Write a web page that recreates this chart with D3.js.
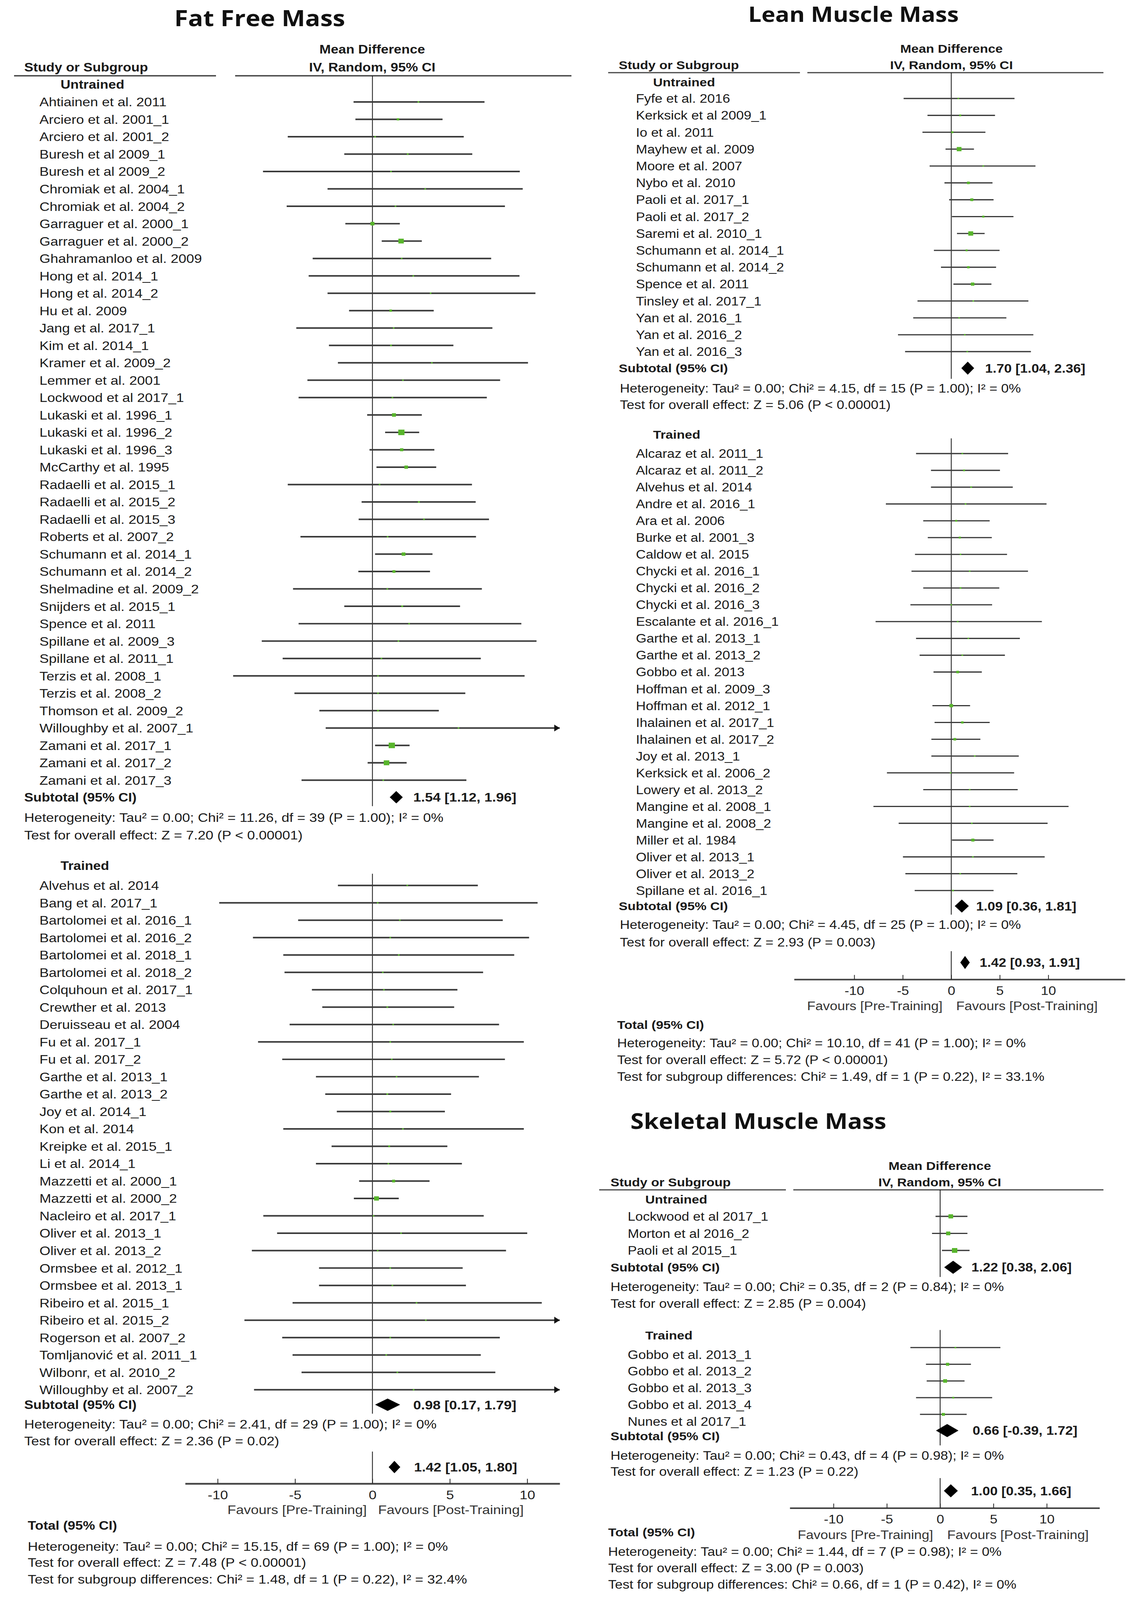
<!DOCTYPE html>
<html>
<head>
<meta charset="utf-8">
<script src="https://cdn.jsdelivr.net/npm/d3@7"></script>
<style>
html, body { margin: 0; padding: 0; background: #fff; overflow: hidden; }
svg { display: block; }
</style>
</head>
<body>
<div id="chart"></div>
<script>
// ---- data: fat free mass ----
var ffmUntrainedStudies = ["Ahtiainen et al. 2011", "Arciero et al. 2001_1", "Arciero et al. 2001_2", "Buresh et al 2009_1",
  "Buresh et al 2009_2", "Chromiak et al. 2004_1", "Chromiak et al. 2004_2", "Garraguer et al. 2000_1",
  "Garraguer et al. 2000_2", "Ghahramanloo et al. 2009", "Hong et al. 2014_1", "Hong et al. 2014_2",
  "Hu et al. 2009", "Jang et al. 2017_1", "Kim et al. 2014_1", "Kramer et al. 2009_2", "Lemmer et al. 2001",
  "Lockwood et al 2017_1", "Lukaski et al. 1996_1", "Lukaski et al. 1996_2", "Lukaski et al. 1996_3",
  "McCarthy et al. 1995", "Radaelli et al. 2015_1", "Radaelli et al. 2015_2", "Radaelli et al. 2015_3",
  "Roberts et al. 2007_2", "Schumann et al. 2014_1", "Schumann et al. 2014_2", "Shelmadine et al. 2009_2",
  "Snijders et al. 2015_1", "Spence et al. 2011", "Spillane et al. 2009_3", "Spillane et al. 2011_1",
  "Terzis et al. 2008_1", "Terzis et al. 2008_2", "Thomson et al. 2009_2", "Willoughby et al. 2007_1",
  "Zamani et al. 2017_1", "Zamani et al. 2017_2", "Zamani et al. 2017_3"];
// [mean difference, lower, upper]
var ffmUntrainedCI = [[2.97,-1.22,7.24],[1.65,-1.10,4.53],[0.17,-5.47,5.90],[2.28,-1.82,6.45],
  [1.20,-7.07,9.52],[3.41,-2.90,9.71],[1.49,-5.54,8.56],[0.00,-1.75,1.77],
  [1.85,0.60,3.19],[1.89,-3.86,7.67],[2.64,-4.12,9.50],[3.76,-2.90,10.53],
  [1.18,-1.51,3.96],[1.37,-4.92,7.75],[1.20,-2.81,5.23],[3.84,-2.23,10.05],[1.97,-4.20,8.25],
  [1.29,-4.77,7.39],[1.39,-0.34,3.19],[1.87,0.82,3.02],[1.89,-0.19,4.00],
  [2.18,0.26,4.12],[0.46,-5.47,6.43],[3.00,-0.70,6.67],[3.33,-0.89,7.53],
  [0.98,-4.65,6.69],[2.01,0.17,3.88],[1.39,-0.91,3.72],[0.96,-5.13,7.07],
  [1.92,-1.82,5.66],[2.37,-4.77,9.62],[1.68,-7.15,10.60],[0.58,-5.80,7.00],
  [0.36,-9.00,9.83],[0.36,-5.04,6.00],[0.36,-3.43,4.29],[5.56,-3.02,14.10],
  [1.25,0.17,2.40],[0.91,-0.31,2.21],[0.70,-4.58,6.07]];

var ffmTrainedStudies = ["Alvehus et al. 2014", "Bang et al. 2017_1", "Bartolomei et al. 2016_1", "Bartolomei et al. 2016_2",
  "Bartolomei et al. 2018_1", "Bartolomei et al. 2018_2", "Colquhoun et al. 2017_1", "Crewther et al. 2013",
  "Deruisseau et al. 2004", "Fu et al. 2017_1", "Fu et al. 2017_2", "Garthe et al. 2013_1", "Garthe et al. 2013_2",
  "Joy et al. 2014_1", "Kon et al. 2014", "Kreipke et al. 2015_1", "Li et al. 2014_1", "Mazzetti et al. 2000_1",
  "Mazzetti et al. 2000_2", "Nacleiro et al. 2017_1", "Oliver et al. 2013_1", "Oliver et al. 2013_2",
  "Ormsbee et al. 2012_1", "Ormsbee et al. 2013_1", "Ribeiro et al. 2015_1", "Ribeiro et al. 2015_2",
  "Rogerson et al. 2007_2", "Tomljanović et al. 2011_1", "Wilbonr, et al. 2010_2", "Willoughby et al. 2007_2"];
var ffmTrainedCI = [[2.25,-2.23,6.81],[0.34,-9.90,10.67],[1.77,-4.80,8.42],[1.15,-7.72,10.12],
  [1.70,-5.76,9.16],[0.67,-5.68,7.15],[0.74,-3.91,5.49],[0.96,-3.24,5.28],
  [1.34,-5.35,8.18],[1.15,-7.39,9.78],[1.25,-5.83,8.56],[1.56,-3.65,6.88],[0.96,-3.05,5.08],
  [1.15,-2.30,4.68],[1.97,-5.76,9.78],[1.08,-2.64,4.84],[1.03,-3.65,5.78],[1.37,-0.86,3.69],
  [0.26,-1.20,1.70],[0.07,-7.05,7.19],[1.85,-6.16,10.00],[0.34,-7.79,8.63],
  [1.15,-3.45,5.83],[1.29,-3.45,6.04],[2.85,-5.16,10.94],[3.45,-8.27,15.17],
  [1.15,-5.83,8.23],[0.89,-5.16,7.00],[1.61,-4.58,7.94],[2.66,-7.65,12.97]];

var ffmSubtotals = [[1.54,1.12,1.96],[0.98,0.17,1.79]];
var ffmOverall = [1.42,1.05,1.80];
var ffmStats = [
  ["Heterogeneity: Tau² = 0.00; Chi² = 11.26, df = 39 (P = 1.00); I² = 0%", "Test for overall effect: Z = 7.20 (P < 0.00001)"],
  ["Heterogeneity: Tau² = 0.00; Chi² = 2.41, df = 29 (P = 1.00); I² = 0%", "Test for overall effect: Z = 2.36 (P = 0.02)"]];
var ffmTotalStats = ["Heterogeneity: Tau² = 0.00; Chi² = 15.15, df = 69 (P = 1.00); I² = 0%",
  "Test for overall effect: Z = 7.48 (P < 0.00001)",
  "Test for subgroup differences: Chi² = 1.48, df = 1 (P = 0.22), I² = 32.4%"];

// ---- data: lean muscle mass ----
var lmmUntrainedStudies = ["Fyfe et al. 2016", "Kerksick et al 2009_1", "Io et al. 2011", "Mayhew et al. 2009",
  "Moore et al. 2007", "Nybo et al. 2010", "Paoli et al. 2017_1", "Paoli et al. 2017_2", "Saremi et al. 2010_1",
  "Schumann et al. 2014_1", "Schumann et al. 2014_2", "Spence et al. 2011", "Tinsley et al. 2017_1",
  "Yan et al. 2016_1", "Yan et al. 2016_2", "Yan et al. 2016_3"];
var lmmUntrainedCI = [[0.73,-4.91,6.52],[0.92,-2.45,4.51],[0.11,-2.97,3.52],[0.81,-0.59,2.34],
  [3.30,-2.23,8.68],[1.76,-0.70,4.25],[2.12,-0.22,4.36],[3.30,0.07,6.41],[2.01,0.59,3.44],
  [1.58,-1.79,4.98],[1.76,-1.06,4.62],[2.20,0.22,4.14],[2.27,-3.48,7.95],
  [0.81,-3.92,5.68],[1.39,-5.49,8.46],[1.65,-4.76,8.21]];

var lmmTrainedStudies = ["Alcaraz et al. 2011_1", "Alcaraz et al. 2011_2", "Alvehus et al. 2014", "Andre et al. 2016_1",
  "Ara et al. 2006", "Burke et al. 2001_3", "Caldow et al. 2015", "Chycki et al. 2016_1", "Chycki et al. 2016_2",
  "Chycki et al. 2016_3", "Escalante et al. 2016_1", "Garthe et al. 2013_1", "Garthe et al. 2013_2",
  "Gobbo et al. 2013", "Hoffman et al. 2009_3", "Hoffman et al. 2012_1", "Ihalainen et al. 2017_1",
  "Ihalainen et al. 2017_2", "Joy et al. 2013_1", "Kerksick et al. 2006_2", "Lowery et al. 2013_2",
  "Mangine et al. 2008_1", "Mangine et al. 2008_2", "Miller et al. 1984", "Oliver et al. 2013_1",
  "Oliver et al. 2013_2", "Spillane et al. 2016_1"];
var lmmTrainedCI = [[1.14,-3.63,5.86],[1.32,-2.09,5.02],[2.05,-2.09,6.34],[1.47,-6.74,9.82],
  [0.51,-2.89,3.96],[0.88,-2.42,4.18],[0.95,-3.74,5.75],[1.90,-4.10,7.91],[0.95,-2.89,4.95],
  [0.00,-4.21,4.21],[0.66,-7.80,9.34],[1.76,-3.63,7.07],[1.14,-3.26,5.53],
  [0.66,-1.83,3.15],null,[0.00,-1.94,1.94],[1.14,-1.72,3.96],
  [0.37,-2.05,3.00],[2.42,-2.05,6.96],[-0.07,-6.63,6.48],[1.90,-2.89,6.85],
  [1.90,-8.02,12.09],[2.12,-5.42,9.93],[2.23,0.07,4.36],[2.23,-4.98,9.63],
  [0.92,-4.73,6.81],[0.18,-3.77,4.36]];

var lmmSubtotals = [[1.70,1.04,2.36],[1.09,0.36,1.81]];
var lmmOverall = [1.42,0.93,1.91];
var lmmStats = [
  ["Heterogeneity: Tau² = 0.00; Chi² = 4.15, df = 15 (P = 1.00); I² = 0%", "Test for overall effect: Z = 5.06 (P < 0.00001)"],
  ["Heterogeneity: Tau² = 0.00; Chi² = 4.45, df = 25 (P = 1.00); I² = 0%", "Test for overall effect: Z = 2.93 (P = 0.003)"]];
var lmmTotalStats = ["Heterogeneity: Tau² = 0.00; Chi² = 10.10, df = 41 (P = 1.00); I² = 0%",
  "Test for overall effect: Z = 5.72 (P < 0.00001)",
  "Test for subgroup differences: Chi² = 1.49, df = 1 (P = 0.22), I² = 33.1%"];

// ---- data: skeletal muscle mass ----
var smmUntrainedStudies = ["Lockwood et al 2017_1", "Morton et al 2016_2", "Paoli et al 2015_1"];
var smmUntrainedCI = [[1.00,-0.43,2.56],[0.76,-0.76,2.56],[1.36,0.17,2.76]];
var smmTrainedStudies = ["Gobbo et al. 2013_1", "Gobbo et al. 2013_2", "Gobbo et al. 2013_3", "Gobbo et al. 2013_4", "Nunes et al 2017_1"];
var smmTrainedCI = [[1.43,-2.79,5.65],[0.70,-1.33,2.89],[0.47,-1.26,2.29],[1.23,-2.26,4.88],[0.30,-1.89,2.49]];
var smmSubtotals = [[1.22,0.38,2.06],[0.66,-0.39,1.72]];
var smmOverall = [1.00,0.35,1.66];
var smmStats = [
  ["Heterogeneity: Tau² = 0.00; Chi² = 0.35, df = 2 (P = 0.84); I² = 0%", "Test for overall effect: Z = 2.85 (P = 0.004)"],
  ["Heterogeneity: Tau² = 0.00; Chi² = 0.43, df = 4 (P = 0.98); I² = 0%", "Test for overall effect: Z = 1.23 (P = 0.22)"]];
var smmTotalStats = ["Heterogeneity: Tau² = 0.00; Chi² = 1.44, df = 7 (P = 0.98); I² = 0%",
  "Test for overall effect: Z = 3.00 (P = 0.003)",
  "Test for subgroup differences: Chi² = 0.66, df = 1 (P = 0.42), I² = 0%"];

var axisTicks = [-10, -5, 0, 5, 10];
var axisTickLabels = ["-10", "-5", "0", "5", "10"];
var subgroupNames = ["Untrained", "Trained"];

// ---- drawing ----
var W = 2893, H = 4646;
var FONT = "'Liberation Sans', Arial, sans-serif";
var TITLE_FONT = "'Open Sans', 'Noto Sans', sans-serif";

// the drawing is laid out on a 2893 x 4646 grid and stretched to the window
var svg = d3.select("#chart").append("svg:svg")
    .attr("width", "100vw")
    .attr("height", "100vh")
    .attr("viewBox", "0 0 " + W + " " + H)
    .attr("preserveAspectRatio", "none")
    .attr("xmlns", "http://www.w3.org/2000/svg");

svg.append("rect").attr("width", W).attr("height", H).attr("fill", "#fff");

function txt(g, x, y, s, size, o) {
    o = o || {};
    return g.append("text")
        .attr("x", x)
        .attr("y", y + size * 0.36)
        .attr("font-family", o.family || FONT)
        .attr("font-size", size)
        .attr("font-weight", o.bold ? "bold" : "normal")
        .attr("text-anchor", o.anchor || "start")
        .attr("fill", o.color || "#1a1a1a")
        .text(s);
}

function hline(g, x1, x2, y, w, c) {
    g.append("line").attr("x1", x1).attr("x2", x2).attr("y1", y).attr("y2", y)
        .style("stroke", c || "#444").style("stroke-width", w);
}

function vline(g, x, y1, y2) {
    g.append("line").attr("x1", x).attr("x2", x).attr("y1", y1).attr("y2", y2)
        .style("stroke", "#111").style("stroke-width", 2);
}

function diamond(g, x, y, v, h) {
    g.append("path")
        .attr("d", "M" + x(v[1]) + "," + y + "L" + x(v[0]) + "," + (y - h) +
            "L" + x(v[2]) + "," + y + "L" + x(v[0]) + "," + (y + h) + "Z")
        .attr("fill", "#000");
}

function fmt(v) {
    return v[0].toFixed(2) + " [" + v[1].toFixed(2) + ", " + v[2].toFixed(2) + "]";
}

function drawPanel(p) {
    var g = svg.append("g");
    var x = p.x;
    var dom = x.domain();

    txt(g, p.title.x, p.title.y, p.title.text, p.title.size,
        {family: TITLE_FONT, bold: true, anchor: p.title.anchor, color: "#111"});

    txt(g, p.mdX, p.headY1, "Mean Difference", p.head, {bold: true, anchor: "middle"});
    txt(g, p.mdX, p.headY2, "IV, Random, 95% CI", p.head, {bold: true, anchor: "middle"});
    txt(g, p.studyHeadX, p.headY2, "Study or Subgroup", p.head, {bold: true});
    hline(g, p.segL[0], p.segL[1], p.lineY, p.headW);
    hline(g, p.segR[0], p.segR[1], p.lineY, p.headW);

    p.sections.forEach(function(sec, si) {
        txt(g, sec.labelX, sec.labelY, subgroupNames[si], p.head, {bold: true});
        vline(g, x(0), sec.zero[0], sec.zero[1]);

        sec.names.forEach(function(n, i) {
            var y = sec.rowY + i * sec.step;
            txt(g, sec.studyX, y + (sec.labelDy || 0), n, p.font);
            var v = sec.ci[i];
            if (!v) return;
            var lo = Math.max(v[1], dom[0]), hi = Math.min(v[2], dom[1]);
            hline(g, x(lo), x(hi), y, p.ciW, "#3a3a3a");
            if (v[2] > dom[1]) {
                var ex = x(dom[1]);
                g.append("path")
                    .attr("d", "M" + ex + "," + y + "L" + (ex - 14) + "," + (y - 10) + "L" + (ex - 14) + "," + (y + 10) + "Z")
                    .attr("fill", "#111");
            }
            // square size follows the precision of the estimate
            var s = Math.max(4, Math.min(16, 36 / (v[2] - v[1])));
            g.append("rect")
                .attr("x", x(v[0]) - s / 2).attr("y", y - s / 2)
                .attr("width", s).attr("height", s)
                .attr("fill", "#58b52c");
        });

        txt(g, sec.subLabelX, sec.subY + (sec.subLabelDy || 0), "Subtotal (95% CI)", p.head, {bold: true});
        diamond(g, x, sec.subY, sec.subtotal, p.dia);
        txt(g, sec.valX, sec.subY, fmt(sec.subtotal), p.font, {bold: true});
        txt(g, sec.statX, sec.hetY, sec.stats[0], p.font);
        txt(g, sec.statX, sec.testY, sec.stats[1], p.font);
    });

    // overall estimate
    vline(g, x(0), p.overall.zeroTop, p.axisY);
    diamond(g, x, p.overall.y, p.overall.v, p.dia);
    txt(g, p.overall.valX, p.overall.y, fmt(p.overall.v), p.font, {bold: true});

    // axis
    var ax = g.append("g")
        .attr("transform", "translate(0," + p.axisY + ")")
        .call(d3.axisBottom(x)
            .tickValues(axisTicks)
            .tickFormat(function(d, i) { return axisTickLabels[i]; })
            .tickSizeInner(-p.tickLen)
            .tickSizeOuter(0)
            .tickPadding(p.tickPad));
    ax.select(".domain").style("stroke", "#444").style("stroke-width", p.axisW);
    ax.selectAll(".tick line").style("stroke", "#222").style("stroke-width", 2);
    ax.selectAll(".tick text")
        .attr("font-family", FONT).attr("font-size", p.font).attr("fill", "#222");

    txt(g, p.favPre, p.favY, "Favours [Pre-Training]", p.font, {anchor: "end", color: "#333"});
    txt(g, p.favPost, p.favY, "Favours [Post-Training]", p.font, {color: "#333"});

    txt(g, p.total.x, p.total.y, "Total (95% CI)", p.head, {bold: true});
    p.total.ys.forEach(function(y, i) {
        txt(g, p.total.x, y, p.total.stats[i], p.font);
    });
}

// Fat Free Mass
drawPanel({
    x: d3.scaleLinear().domain([-12.1, 12.1]).range([474, 1433]),
    font: 36, head: 35, ciW: 4.5, headW: 4, axisW: 5, dia: 18, tickLen: 14, tickPad: 20,
    title: {text: "Fat Free Mass", x: 665, y: 53, size: 64, anchor: "middle"},
    mdX: 953, headY1: 143, headY2: 195, studyHeadX: 62, lineY: 220,
    segL: [36, 553], segR: [602, 1463],
    sections: [
        {labelX: 155, labelY: 245, zero: [220, 2341], rowY: 296, step: 50.5, studyX: 101,
         names: ffmUntrainedStudies, ci: ffmUntrainedCI, subY: 2315, subLabelX: 62,
         subtotal: ffmSubtotals[0], valX: 1058, statX: 62, hetY: 2374, testY: 2425, stats: ffmStats[0]},
        {labelX: 155, labelY: 2513, zero: [2537, 4105], rowY: 2571, step: 50.5, studyX: 101,
         names: ffmTrainedStudies, ci: ffmTrainedCI, subY: 4079, subLabelX: 62,
         subtotal: ffmSubtotals[1], valX: 1058, statX: 62, hetY: 4135, testY: 4184, stats: ffmStats[1]}
    ],
    overall: {y: 4260, zeroTop: 4215, v: ffmOverall, valX: 1060},
    axisY: 4308, favY: 4383, favPre: 939, favPost: 968,
    total: {x: 71, y: 4429, ys: [4490, 4537, 4585], stats: ffmTotalStats}
});

// Lean Muscle Mass
drawPanel({
    x: d3.scaleLinear().domain([-16.2, 17.9]).range([2033, 2880]),
    font: 35, head: 34, ciW: 3.5, headW: 3.5, axisW: 4.5, dia: 19, tickLen: 13, tickPad: 20,
    title: {text: "Lean Muscle Mass", x: 2185, y: 42, size: 60, anchor: "middle"},
    mdX: 2436, headY1: 141, headY2: 188, studyHeadX: 1584, lineY: 211,
    segL: [1557, 2048], segR: [2067, 2825],
    sections: [
        {labelX: 1672, labelY: 238, zero: [211, 1100], rowY: 286, step: 49, studyX: 1628,
         names: lmmUntrainedStudies, ci: lmmUntrainedCI, subY: 1069, subLabelX: 1584,
         subtotal: lmmSubtotals[0], valX: 2522, statX: 1587, hetY: 1127, testY: 1175, stats: lmmStats[0]},
        {labelX: 1672, labelY: 1262, zero: [1273, 2656], rowY: 1317, step: 48.8, studyX: 1628,
         names: lmmTrainedStudies, ci: lmmTrainedCI, subY: 2631, subLabelX: 1584,
         subtotal: lmmSubtotals[1], valX: 2499, statX: 1587, hetY: 2685, testY: 2736, stats: lmmStats[1]}
    ],
    overall: {y: 2795, zeroTop: 2762, v: lmmOverall, valX: 2508},
    axisY: 2844, favY: 2921, favPre: 2413, favPost: 2448,
    total: {x: 1580, y: 2975, ys: [3028, 3077, 3126], stats: lmmTotalStats}
});

// Skeletal Muscle Mass
drawPanel({
    x: d3.scaleLinear().domain([-14.1, 14.95]).range([2022, 2815]),
    font: 35, head: 34, ciW: 3.5, headW: 3.5, axisW: 4.5, dia: 19, tickLen: 13, tickPad: 20,
    title: {text: "Skeletal Muscle Mass", x: 1614, y: 3256, size: 62, anchor: "start"},
    mdX: 2406, headY1: 3385, headY2: 3433, studyHeadX: 1563, lineY: 3455,
    segL: [1534, 2012], segR: [2031, 2825],
    sections: [
        {labelX: 1652, labelY: 3482, zero: [3455, 3708], rowY: 3532, step: 49.5, studyX: 1607,
         names: smmUntrainedStudies, ci: smmUntrainedCI, subY: 3680, subLabelX: 1563,
         subtotal: smmSubtotals[0], valX: 2487, statX: 1563, hetY: 3736, testY: 3785, stats: smmStats[0]},
        {labelX: 1652, labelY: 3877, zero: [3862, 4197], rowY: 3913, step: 48.5, studyX: 1607, labelDy: 20,
         names: smmTrainedStudies, ci: smmTrainedCI, subY: 4154, subLabelX: 1563, subLabelDy: 16,
         subtotal: smmSubtotals[1], valX: 2490, statX: 1563, hetY: 4226, testY: 4273, stats: smmStats[1]}
    ],
    overall: {y: 4329, zeroTop: 4292, v: smmOverall, valX: 2486},
    axisY: 4379, favY: 4457, favPre: 2389, favPost: 2425,
    total: {x: 1557, y: 4449, ys: [4505, 4553, 4600], stats: smmTotalStats}
});
</script>
</body>
</html>
